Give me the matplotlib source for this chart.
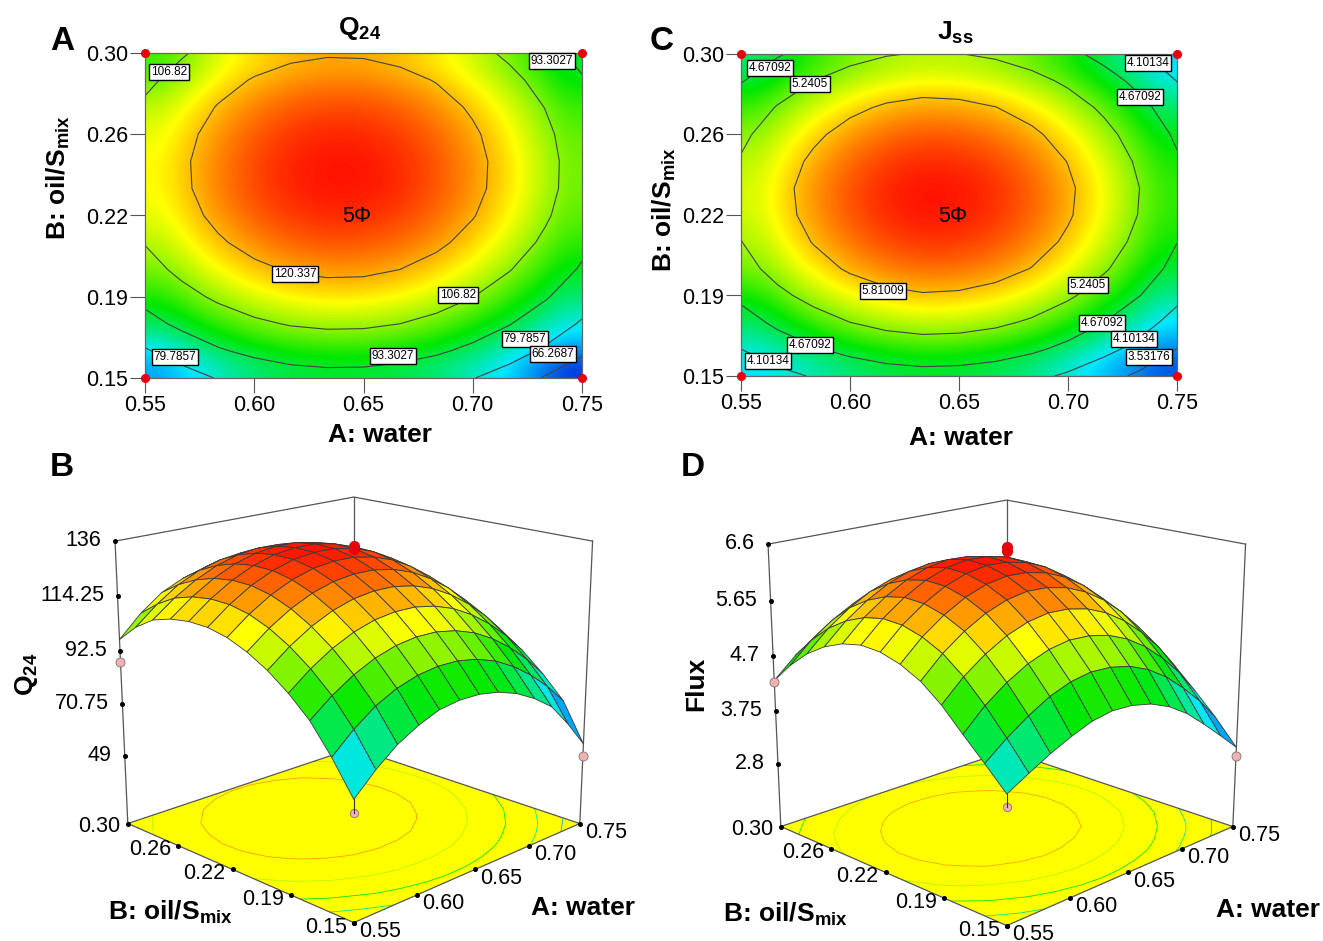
import numpy as np
import matplotlib
matplotlib.use("Agg")
import matplotlib.pyplot as plt
from matplotlib.colors import LinearSegmentedColormap, Normalize

plt.rcParams["font.family"] = ["Liberation Sans", "DejaVu Sans"]
plt.rcParams["mathtext.fontset"] = "custom"
plt.rcParams["mathtext.rm"] = "Liberation Sans"
plt.rcParams["mathtext.bf"] = "Liberation Sans:bold"

W, H = 1323, 941

# grid nodes, 13 x 13, rows run from B=0.15 up to B=0.30
water = np.linspace(0.55, 0.75, 13)
oil = np.linspace(0.15, 0.30, 13)

q24 = np.array([
    [66.0, 74.0, 80.5, 85.0, 88.2, 89.3, 89.1, 87.5, 84.6, 80.2, 74.5, 65.0, 54.0],
    [78.5, 86.0, 92.0, 96.1, 98.6, 99.7, 99.5, 97.9, 95.0, 90.6, 84.9, 77.9, 69.5],
    [89.2, 95.8, 101.1, 105.0, 107.5, 108.6, 108.4, 106.8, 103.9, 99.5, 93.8, 86.8, 78.4],
    [96.7, 103.3, 108.6, 112.5, 115.0, 116.1, 115.9, 114.3, 111.4, 107.0, 101.3, 94.3, 85.9],
    [102.7, 109.3, 114.6, 118.5, 121.0, 122.1, 121.9, 120.3, 117.4, 113.0, 107.3, 100.3, 91.9],
    [107.3, 113.9, 119.2, 123.1, 125.6, 126.7, 126.5, 124.9, 122.0, 117.6, 111.9, 104.9, 96.5],
    [110.5, 117.1, 122.4, 126.3, 128.8, 129.9, 129.7, 128.1, 125.2, 120.8, 115.1, 108.1, 99.7],
    [112.2, 118.8, 124.1, 128.0, 130.5, 131.6, 131.4, 129.8, 126.9, 122.5, 116.8, 109.8, 101.4],
    [112.4, 119.0, 124.3, 128.2, 130.7, 131.8, 131.6, 130.0, 127.1, 122.7, 117.0, 110.0, 101.6],
    [111.3, 117.9, 123.2, 127.1, 129.6, 130.7, 130.5, 128.9, 126.0, 121.6, 115.9, 108.9, 100.5],
    [108.9, 115.5, 120.8, 124.7, 127.2, 128.3, 128.1, 126.5, 123.6, 119.2, 113.5, 106.5, 98.1],
    [104.0, 111.2, 117.1, 121.0, 123.5, 124.6, 124.4, 122.8, 119.9, 115.5, 109.8, 102.8, 94.4],
    [97.0, 105.5, 112.0, 115.9, 118.4, 119.5, 119.3, 117.7, 114.8, 110.4, 104.7, 97.7, 89.3],
])

flux = np.array([
    [3.75, 3.95, 4.14, 4.30, 4.43, 4.49, 4.47, 4.39, 4.24, 4.02, 3.73, 3.42, 3.10],
    [4.10, 4.38, 4.62, 4.82, 4.95, 5.01, 4.99, 4.91, 4.76, 4.54, 4.25, 3.92, 3.52],
    [4.44, 4.78, 5.04, 5.24, 5.37, 5.43, 5.41, 5.33, 5.18, 4.96, 4.67, 4.32, 3.89],
    [4.79, 5.13, 5.39, 5.59, 5.72, 5.78, 5.76, 5.68, 5.53, 5.31, 5.02, 4.67, 4.24],
    [5.06, 5.40, 5.66, 5.86, 5.99, 6.05, 6.03, 5.95, 5.80, 5.58, 5.29, 4.94, 4.51],
    [5.23, 5.57, 5.83, 6.03, 6.16, 6.22, 6.20, 6.12, 5.97, 5.75, 5.46, 5.11, 4.68],
    [5.33, 5.67, 5.93, 6.13, 6.26, 6.32, 6.30, 6.22, 6.07, 5.85, 5.56, 5.21, 4.78],
    [5.35, 5.69, 5.95, 6.15, 6.28, 6.34, 6.32, 6.24, 6.09, 5.87, 5.58, 5.23, 4.80],
    [5.28, 5.62, 5.88, 6.08, 6.21, 6.27, 6.25, 6.17, 6.02, 5.80, 5.51, 5.16, 4.73],
    [5.14, 5.48, 5.74, 5.94, 6.07, 6.13, 6.11, 6.03, 5.88, 5.66, 5.37, 5.02, 4.59],
    [4.93, 5.27, 5.53, 5.73, 5.86, 5.92, 5.90, 5.82, 5.67, 5.45, 5.16, 4.81, 4.38],
    [4.64, 4.98, 5.24, 5.44, 5.57, 5.63, 5.61, 5.53, 5.38, 5.16, 4.87, 4.52, 4.09],
    [4.28, 4.62, 4.88, 5.08, 5.21, 5.27, 5.25, 5.17, 5.02, 4.80, 4.51, 4.16, 3.73],
])

q24_levels = [66.2687, 79.7857, 93.3027, 106.82, 120.337]
flux_levels = [3.53176, 4.10134, 4.67092, 5.2405, 5.81009]

a_ticks = [0.55, 0.60, 0.65, 0.70, 0.75]
b_ticks = [0.15, 0.1875, 0.225, 0.2625, 0.30]
a_labels = ["0.55", "0.60", "0.65", "0.70", "0.75"]
b_labels = ["0.15", "0.19", "0.22", "0.26", "0.30"]

q24_zticks = [49, 70.75, 92.5, 114.25, 136]
q24_zlabels = ["49", "70.75", "92.5", "114.25", "136"]
flux_zticks = [2.8, 3.75, 4.7, 5.65, 6.6]
flux_zlabels = ["2.8", "3.75", "4.7", "5.65", "6.6"]

# design points: A, B, response
design_a = [0.55, 0.75, 0.55]
design_b = [0.30, 0.15, 0.15]
q24_design = [88, 49, 61]
flux_design = [4.25, 2.95, 3.55]
q24_center = 134
flux_center = 6.55

q24_boxes = [("106.82", 169, 72), ("93.3027", 552, 61), ("120.337", 295, 274),
             ("106.82", 458, 295), ("93.3027", 393, 356), ("79.7857", 175, 357),
             ("79.7857", 525, 339), ("66.2687", 553, 354)]
flux_boxes = [("4.67092", 770, 68), ("5.2405", 810, 84), ("4.10134", 1148, 63),
              ("4.67092", 1140, 97), ("5.81009", 883, 291), ("5.2405", 1088, 285),
              ("4.67092", 1102, 323), ("4.67092", 810, 345), ("4.10134", 1134, 339),
              ("4.10134", 768, 361), ("3.53176", 1149, 357)]

heat = LinearSegmentedColormap.from_list(
    "de", ["#0033e0", "#00e8ff", "#00e800", "#ffff00", "#ff1000"])

fig = plt.figure(figsize=(W / 100, H / 100), dpi=100)


def ftext(px, py, s, **kw):
    return fig.text(px / W, 1 - py / H, s, **kw)


def contour_panel(box, z, levels, vmin, vmax, boxes):
    x0, y0, x1, y1 = box
    ax = fig.add_axes([x0 / W, 1 - y1 / H, (x1 - x0) / W, (y1 - y0) / H])
    ax.imshow(z, origin="lower", extent=[0.55, 0.75, 0.15, 0.30], aspect="auto",
              cmap=heat, norm=Normalize(vmin, vmax), interpolation="bicubic")
    ax.contour(water, oil, z, levels=levels, colors="#444444", linewidths=0.8)
    ax.set_xticks(a_ticks, a_labels)
    ax.set_yticks(b_ticks, b_labels)
    ax.tick_params(labelsize=15.5, length=11, width=0.8, color="#555555", pad=1)
    for s in ax.spines.values():
        s.set_color("#666666")
        s.set_linewidth(0.9)
    ax.plot([0.55, 0.75, 0.55, 0.75], [0.15, 0.15, 0.30, 0.30], "o", ms=5.5, color="#e8000b",
            clip_on=False, zorder=5)
    ax.text(0.647, 0.2245, "5\u03a6", fontsize=15.5, ha="center", va="center",
            family=["Liberation Sans", "DejaVu Sans"])
    for label, px, py in boxes:
        ftext(px, py, label, fontsize=8.5, ha="center", va="center", zorder=6,
              bbox=dict(boxstyle="square,pad=0.15", fc="white", ec="black", lw=1))


def surface_panel(cx, cy, z, levels, zticks, zlabels, zfloor, vmin, vmax, design, center, zoff):
    side = 800
    rect = [(cx - side / 2) / W, 1 - (cy + side / 2) / H, side / W, side / H]
    ax = fig.add_axes(rect, projection="3d", computed_zorder=False)
    ax.set_proj_type("persp", focal_length=0.37)
    ax.view_init(elev=17.3, azim=-135)
    ax.set_box_aspect((1, 1, 0.9), zoom=0.668)
    ax.set_axis_off()
    ax.patch.set_alpha(0)
    ztop = zticks[-1]
    zspan = ztop - zfloor
    ax.set_xlim(0.55, 0.75)
    ax.set_ylim(0.15, 0.30)
    ax.set_zlim(zfloor, ztop)
    norm = Normalize(vmin, vmax)
    X, Y = np.meshgrid(water, oil)

    # floor with the contour lines on it
    ax.plot_surface(np.array([[0.55, 0.75], [0.55, 0.75]]), np.array([[0.15, 0.15], [0.30, 0.30]]),
                    np.full((2, 2), zfloor), color="#ffff00", shade=False, zorder=1)
    ax.contour(X, Y, z, levels=levels, zdir="z", offset=zfloor, cmap=heat, norm=norm,
               linewidths=0.6, zorder=2)
    line = dict(color="#555555", lw=0.9, zorder=3)
    ax.plot([0.55, 0.75, 0.75], [0.30, 0.30, 0.15], [ztop] * 3, **line)
    ax.plot([0.75, 0.75], [0.30, 0.30], [zfloor, ztop], **line)
    ax.plot([0.55, 0.55, 0.75, 0.75, 0.55], [0.30, 0.15, 0.15, 0.30, 0.30], [zfloor] * 5, **line)
    ax.plot([0.55, 0.55], [0.30, 0.30], [zfloor, ztop], **line)
    ax.plot([0.75, 0.75], [0.15, 0.15], [zfloor, ztop], **line)

    # stems and lower design points go under the surface
    ax.plot([0.55], [0.15], [design[2]], "o", ms=6, mfc="#f4b0b0", mec="#777777", mew=0.6, zorder=4)
    ax.plot([0.55, 0.55], [0.15, 0.15], [design[2], z[0, 0]], color="#333333", lw=0.8, zorder=4)
    ax.plot_surface(X, Y, z, rstride=1, cstride=1, cmap=heat, norm=norm, shade=False,
                    edgecolor="#3a3a3a", linewidth=0.6, zorder=5)
    ax.plot([design_a[0]], [design_b[0]], [design[0]], "o", ms=6.5, mfc="#f4b0b0", mec="#777777",
            mew=0.6, zorder=6)
    ax.plot([design_a[1]], [design_b[1]], [design[1]], "o", ms=6.5, mfc="#f4b0b0", mec="#777777",
            mew=0.6, zorder=6)
    ax.plot([0.65], [0.225], [center], "o", ms=7, color="#e8000b", zorder=7)
    ax.plot([0.65], [0.225], [center - zoff * 0.3], "o", ms=7, color="#e8000b", zorder=7)

    # ticks
    dots = dict(color="black", ms=2.6, marker="o", ls="none", zorder=8)
    ax.plot([0.55] * 5, [0.30] * 5, zticks, **dots)
    ax.plot(a_ticks, [0.15] * 5, [zfloor] * 5, **dots)
    ax.plot([0.55] * 5, b_ticks, [zfloor] * 5, **dots)
    for v, s in zip(zticks, zlabels):
        ax.text(0.545, 0.305, v, s, fontsize=15.5, ha="right", va="center")
    for v, s in zip(a_ticks, a_labels):
        ax.text(v - 0.001, 0.1465, zfloor + 0.016 * zspan, s, fontsize=15.5, ha="left", va="top")
    for v, s in zip(b_ticks, b_labels):
        ax.text(0.5435, v - 0.001, zfloor, s, fontsize=15.5, ha="right", va="center")
    return ax


contour_panel((145, 53, 582, 378), q24, q24_levels, 54, 132, q24_boxes)
contour_panel((741, 54, 1177, 376), flux, flux_levels, 2.95, 6.34, flux_boxes)

surface_panel(343, 697, q24, q24_levels, q24_zticks, q24_zlabels, 20, 54, 132,
              q24_design, q24_center, 4)
surface_panel(996, 700, flux, flux_levels, flux_zticks, flux_zlabels, 1.66, 2.95, 6.34,
              flux_design, flux_center, 0.2)

bold = dict(fontsize=19, fontweight="bold", ha="center", va="center")
letter = dict(fontsize=24, fontweight="bold", ha="center", va="center")
ftext(62, 41, "A", **letter)
ftext(662, 41, "C", **letter)
ftext(62, 468, "B", **letter)
ftext(693, 468, "D", **letter)
ftext(360, 28, r"$\mathbf{Q_{24}}$", **bold)
ftext(955, 33, r"$\mathbf{J_{ss}}$", **bold)
ftext(380, 435, "A: water", **bold)
ftext(961, 438, "A: water", **bold)
ftext(58, 178, r"B: oil/$\mathbf{S_{mix}}$", rotation=90, **bold)
ftext(664, 210, r"B: oil/$\mathbf{S_{mix}}$", rotation=90, **bold)
ftext(27, 674, r"$\mathbf{Q_{24}}$", rotation=90, **bold)
ftext(696, 684, "Flux", rotation=90, **bold)
ftext(170, 912, r"B: oil/$\mathbf{S_{mix}}$", **bold)
ftext(785, 914, r"B: oil/$\mathbf{S_{mix}}$", **bold)
ftext(583, 908, "A: water", **bold)
ftext(1268, 910, "A: water", **bold)

fig.savefig("out.png", dpi=100)
